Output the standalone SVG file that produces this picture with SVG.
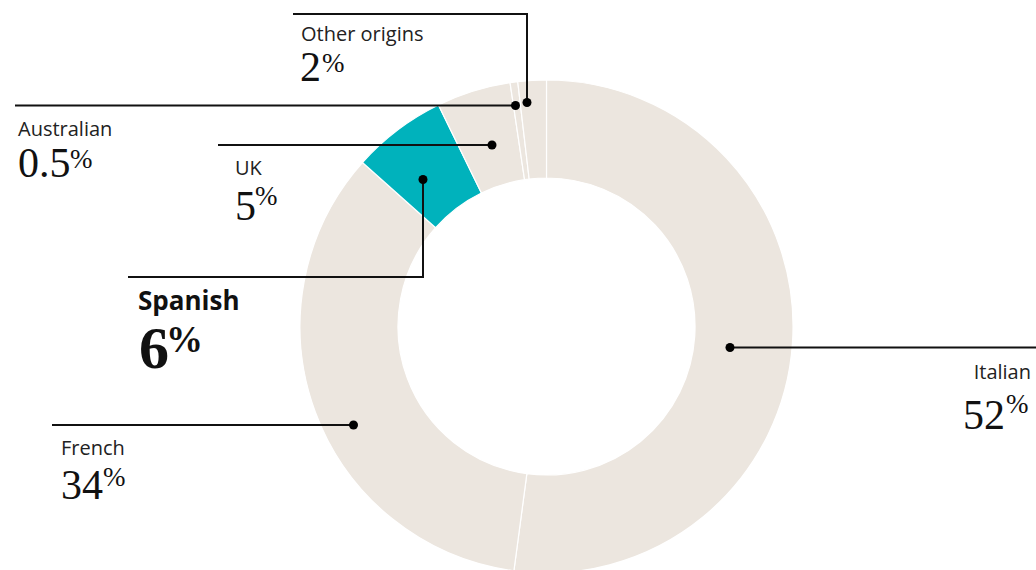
<svg xmlns="http://www.w3.org/2000/svg" width="1036" height="570" viewBox="0 0 1036 570">
<style>
.seg{fill:#ece6df;stroke:#fff;stroke-width:1.2}
.hl{fill:#00b2bc}
.ld{fill:none;stroke:#111;stroke-width:2}
.dot{fill:#000}
.lab{font-family:"Open Sans","Noto Sans",sans-serif;font-size:20px;fill:#222}
.labb{font-family:"Open Sans","Noto Sans",sans-serif;font-size:26px;font-weight:bold;fill:#111}
.num{font-family:"Liberation Serif",serif;font-size:42px;fill:#111}
.pct{font-family:"Liberation Serif",serif;font-size:27px;fill:#111}
.numb{font-family:"Liberation Serif",serif;font-size:60px;font-weight:bold;fill:#111}
.pctb{font-family:"Liberation Serif",serif;font-size:37px;font-weight:bold;fill:#111}
</style>
<rect width="1036" height="570" fill="#fff"/>
<g id="ring">
<path id="seg-italian" class="seg" d="M546.5,80 A246.5,246.5 0 1 1 513.90,570.83 L526.86,473.69 A148.5,148.5 0 1 0 546.5,178 Z"/>
<path id="seg-french" class="seg" d="M513.90,570.83 A246.5,246.5 0 0 1 362.45,162.52 L435.62,227.71 A148.5,148.5 0 0 0 526.86,473.69 Z"/>
<path id="seg-spanish" class="seg hl" d="M362.45,162.52 A246.5,246.5 0 0 1 438.44,104.95 L481.40,193.03 A148.5,148.5 0 0 0 435.62,227.71 Z"/>
<path id="seg-uk" class="seg" d="M438.44,104.95 A246.5,246.5 0 0 1 510.06,82.71 L524.55,179.63 A148.5,148.5 0 0 0 481.40,193.03 Z"/>
<path id="seg-australian" class="seg" d="M510.06,82.71 A246.5,246.5 0 0 1 517.74,81.68 L529.17,179.01 A148.5,148.5 0 0 0 524.55,179.63 Z"/>
<path id="seg-other" class="seg" d="M517.74,81.68 A246.5,246.5 0 0 1 546.5,80 L546.5,178 A148.5,148.5 0 0 0 529.17,179.01 Z"/>
</g>
<g id="connectors">
<polyline class="ld" points="293,14 527,14 527,102.5"/>
<circle class="dot" cx="527" cy="102.5" r="4.5"/>
<line class="ld" x1="15" y1="105.5" x2="515.5" y2="105.5"/>
<circle class="dot" cx="515.5" cy="105.5" r="4.5"/>
<line class="ld" x1="218" y1="145" x2="492" y2="145"/>
<circle class="dot" cx="492" cy="145" r="4.5"/>
<polyline class="ld" points="128,277 423,277 423,179.5"/>
<circle class="dot" cx="423" cy="179.5" r="4.5"/>
<line class="ld" x1="730" y1="347.5" x2="1036" y2="347.5"/>
<circle class="dot" cx="730" cy="347.5" r="4.5"/>
<line class="ld" x1="52" y1="425" x2="353.5" y2="425"/>
<circle class="dot" cx="353.5" cy="425" r="4.5"/>
</g>
<g id="label-other">
<text class="lab" x="301" y="41">Other origins</text>
<text class="num" x="300" y="81">2</text>
<text class="pct" x="322" y="72">%</text>
</g>
<g id="label-australian">
<text class="lab" x="18" y="136">Australian</text>
<text class="num" x="18" y="177">0.5</text>
<text class="pct" x="70" y="168">%</text>
</g>
<g id="label-uk">
<text class="lab" x="235" y="175">UK</text>
<text class="num" x="235" y="220">5</text>
<text class="pct" x="255" y="205">%</text>
</g>
<g id="label-spanish">
<text class="labb" x="138" y="310">Spanish</text>
<text class="numb" x="139" y="368">6</text>
<text class="pctb" x="166" y="352">%</text>
</g>
<g id="label-italian">
<text class="lab" x="1031" y="379" text-anchor="end">Italian</text>
<text class="num" x="963" y="429">52</text>
<text class="pct" x="1006" y="413">%</text>
</g>
<g id="label-french">
<text class="lab" x="61" y="455">French</text>
<text class="num" x="61" y="499">34</text>
<text class="pct" x="103" y="486">%</text>
</g>
</svg>
